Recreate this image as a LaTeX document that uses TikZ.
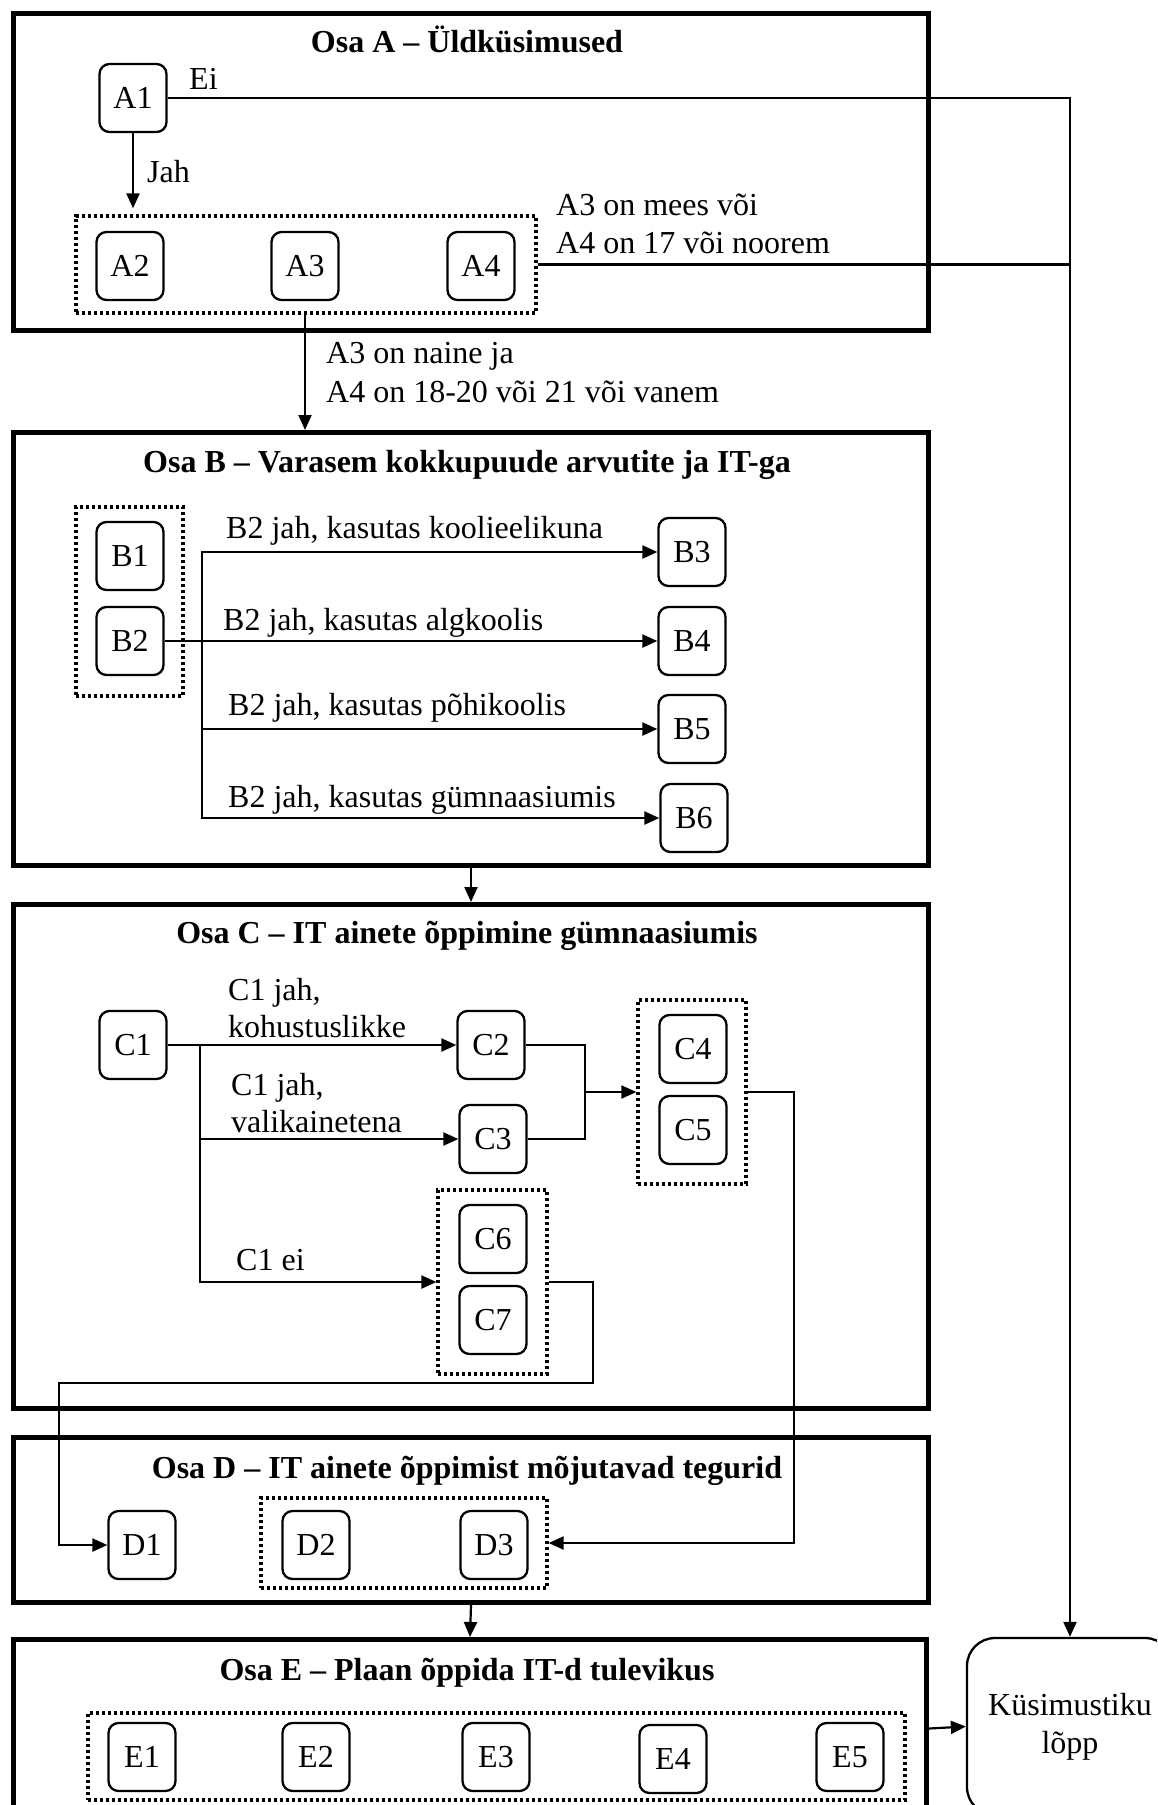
\documentclass[tikz,border=0pt]{standalone}
\usepackage{fontspec}
\setmainfont{Liberation Serif}
\usetikzlibrary{arrows.meta}
\begin{document}
\begin{tikzpicture}[x=1pt,y=-1pt,
  every node/.style={font=\fontsize{32}{38}\selectfont, inner sep=0pt},
  q/.style={draw, rounded corners=10pt, line width=2.3pt, minimum width=67pt, minimum height=68pt},
  sec/.style={draw, line width=5pt, anchor=north west},
  grp/.style={draw, line width=3.3pt, dash pattern=on 3.3pt off 2.7pt},
  con/.style={line width=2.2pt},
  arr/.style={con, -{Triangle[length=15pt,width=13pt]}},
  lab/.style={anchor=base west},
  ttl/.style={anchor=base, font=\fontsize{32}{38}\selectfont\bfseries}]
\useasboundingbox (0,0) rectangle (1157,1805);
\clip (0,0) rectangle (1157,1805);

% section boxes
\node[sec, minimum width=915pt, minimum height=317pt] (secA) at (11,11) {};
\node[sec, minimum width=915pt, minimum height=433pt] (secB) at (11,430) {};
\node[sec, minimum width=915pt, minimum height=504pt] (secC) at (11,902) {};
\node[sec, minimum width=915pt, minimum height=165pt] (secD) at (11,1435) {};
\node[sec, minimum width=913pt, minimum height=178pt] (secE) at (11,1637) {};

\node[ttl] (tA) at (467,52) {Osa A – Üldküsimused};
\node[ttl] (tB) at (467,472) {Osa B – Varasem kokkupuude arvutite ja IT-ga};
\node[ttl] (tC) at (467,943) {Osa C – IT ainete õppimine gümnaasiumis};
\node[ttl] (tD) at (467,1478) {Osa D – IT ainete õppimist mõjutavad tegurid};
\node[ttl] (tE) at (467,1680) {Osa E – Plaan õppida IT-d tulevikus};

% end node
\node[draw, line width=2.3pt, rounded corners=28pt, minimum width=206pt, minimum height=177pt, align=center] (end) at (1070,1726.5) {Küsimustiku\\lõpp};

% groups
\node[grp, minimum width=460pt, minimum height=97pt] (gA) at (306,264.5) {};
\node[grp, minimum width=107pt, minimum height=189pt] (gB) at (129.5,601.5) {};
\node[grp, minimum width=108pt, minimum height=184pt] (gC45) at (692,1092) {};
\node[grp, minimum width=109pt, minimum height=184pt] (gC67) at (492.5,1282) {};
\node[grp, minimum width=286pt, minimum height=90pt] (gD) at (404,1543) {};
\node[grp, minimum width=817pt, minimum height=87pt] (gE) at (496.5,1756.5) {};

% question nodes
\node[q] (A1) at (133,98) {A1};
\node[q] (A2) at (130,266) {A2};
\node[q] (A3) at (305,266) {A3};
\node[q] (A4) at (481,266) {A4};
\node[q] (B1) at (130,556) {B1};
\node[q] (B2) at (130,641) {B2};
\node[q] (B3) at (692,552) {B3};
\node[q] (B4) at (692,641) {B4};
\node[q] (B5) at (692,729) {B5};
\node[q] (B6) at (694,818) {B6};
\node[q] (C1) at (133,1045) {C1};
\node[q] (C2) at (491,1045) {C2};
\node[q] (C3) at (493,1139) {C3};
\node[q] (C4) at (693,1049) {C4};
\node[q] (C5) at (693,1130) {C5};
\node[q] (C6) at (493,1239) {C6};
\node[q] (C7) at (493,1320) {C7};
\node[q] (D1) at (142,1545) {D1};
\node[q] (D2) at (316,1545) {D2};
\node[q] (D3) at (494,1545) {D3};
\node[q] (E1) at (142,1757) {E1};
\node[q] (E2) at (316,1757) {E2};
\node[q] (E3) at (496,1757) {E3};
\node[q] (E4) at (673,1759) {E4};
\node[q] (E5) at (850,1757) {E5};

% labels
\node[lab] (lEi) at (189,89) {Ei};
\node[lab] (lJah) at (147,182) {Jah};
\node[lab] (lA4a) at (556,215) {A3 on mees või};
\node[lab] (lA4b) at (556,253) {A4 on 17 või noorem};
\node[lab] (lA3a) at (326,363) {A3 on naine ja};
\node[lab] (lA3b) at (326,402) {A4 on 18-20 või 21 või vanem};
\node[lab] (lB3) at (226,538) {B2 jah, kasutas koolieelikuna};
\node[lab] (lB4) at (223,630) {B2 jah, kasutas algkoolis};
\node[lab] (lB5) at (228,715) {B2 jah, kasutas põhikoolis};
\node[lab] (lB6) at (228,807) {B2 jah, kasutas gümnaasiumis};
\node[lab] (lC2a) at (228,1000) {C1 jah,};
\node[lab] (lC2b) at (228,1037) {kohustuslikke};
\node[lab] (lC3a) at (231,1095) {C1 jah,};
\node[lab] (lC3b) at (231,1132) {valikainetena};
\node[lab] (lC6) at (236,1270) {C1 ei};

% coordinates
\coordinate (bt) at (202,641);
\coordinate (ct) at (200,1045);
\coordinate (cm) at (585,1092);
\coordinate (cr) at (794,1092);
\coordinate (k1) at (593,1383);
\coordinate (k2) at (59,1383);

% connectors
\draw[arr] (A1.east) -| (end.north);
\draw[arr, shorten >=6pt] (A1.south) -- (A1.south |- gA.north);
\draw[con] (gA.east) -- (gA.east -| end.north);
\draw[arr] (gA.south -| A3) -- (A3 |- secB.north);

\draw[arr] (B2.east) -- (B4.west);
\draw[arr] (bt) |- (B3.west);
\draw[arr] (bt) |- (B5.west);
\draw[arr] (bt) |- (B6.west);

\draw[arr] (secB.south) -- (secC.north);

\draw[arr] (C1.east) -- (C2.west);
\draw[arr] (ct) |- (C3.west);
\draw[arr] (ct) |- (gC67.west);
\draw[con] (C2.east) -| (cm);
\draw[con] (C3.east) -| (cm);
\draw[arr] (cm) -- (gC45.west);
\draw[arr] (gC45.east) -- (cr) |- (gD.east);
\draw[arr] (gC67.east) -| (k1) -- (k2) |- (D1.west);

\draw[arr] (secD.south) -- (secE.north);
\draw[arr] (secE.east) -- (end.west);
\end{tikzpicture}
\end{document}
